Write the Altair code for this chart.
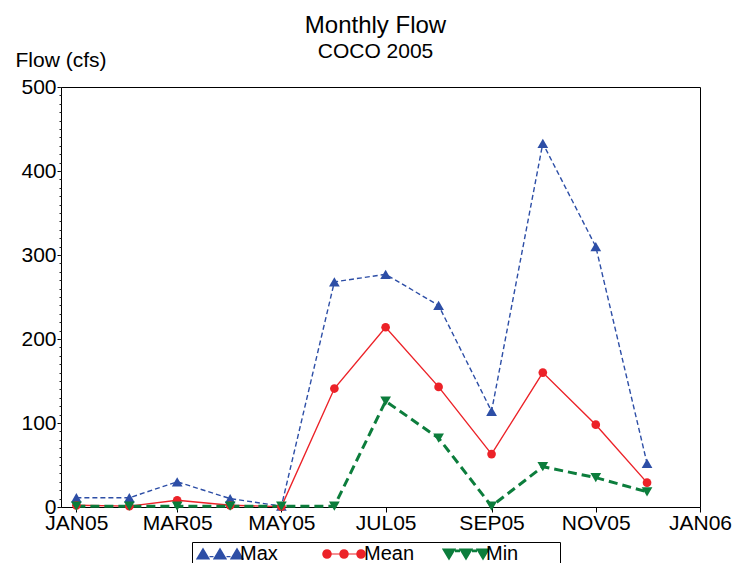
import math
import altair as alt
import pandas as pd

months = ["2005-01-01", "2005-02-01", "2005-03-01", "2005-04-01", "2005-05-01", "2005-06-01",
          "2005-07-01", "2005-08-01", "2005-09-01", "2005-10-01", "2005-11-01", "2005-12-01"]
max_flow = [11, 11, 30, 10, 1, 268, 277, 240, 114, 433, 310, 52]
mean_flow = [2, 1, 8, 2, 0.5, 141, 214, 143, 63, 160, 98, 29]
min_flow = [1, 1, 1, 1, 1, 1, 126, 82, 1, 48, 35, 18]
series = ["Max", "Mean", "Min"]
colors = ["#2D4EA6", "#EC2228", "#0C7D3C"]
x_ticks = ["2005-01-01", "2005-03-01", "2005-05-01", "2005-07-01", "2005-09-01", "2005-11-01", "2006-01-01"]
y_major = [0, 100, 200, 300, 400, 500]
y_minor = list(range(0, 501, 10))

rows = []
for m, a, b, c in zip(months, max_flow, mean_flow, min_flow):
    rows.append({"date": m, "series": "Max", "flow": a})
    rows.append({"date": m, "series": "Mean", "flow": b})
    rows.append({"date": m, "series": "Min", "flow": c})
df = pd.DataFrame(rows)

U = 5.0  # px per path unit (sqrt(symbolSize)/2)


def poly(pts):
    return "M" + " L".join(f"{x / U:.3f},{y / U:.3f}" for x, y in pts) + " Z"


def circle(cx, cy, r, n=16):
    return poly([(cx + r * math.cos(2 * math.pi * k / n), cy + r * math.sin(2 * math.pi * k / n)) for k in range(n)])


def rect(x1, x2, y1, y2):
    return poly([(x1, y1), (x2, y1), (x2, y2), (x1, y2)])


def reach(px):
    # invisible move that widens the legend entry to the right
    return f"M{px / U:.3f},0"


# legend glyphs (pixel geometry): three markers joined by a line
max_path = " ".join(
    [poly([(cx, -6.5), (cx - 7.2, 5.5), (cx + 7.2, 5.5)]) for cx in (-17, 0, 17)]
    + [rect(-10.5, -6.5, 2.0, 3.2), rect(6.5, 10.5, 2.0, 3.2), reach(76)]
)
mean_path = " ".join([rect(-17, 17, -0.6, 0.6)] + [circle(cx, 0, 4.8) for cx in (-17, 0, 17)] + [reach(74)])
min_path = " ".join(
    [poly([(cx, 6.5), (cx - 7.2, -5.5), (cx + 7.2, -5.5)]) for cx in (-17, 0, 17)]
    + [rect(-11, -6, -4.5, -1.8), rect(6, 11, -4.5, -1.8), reach(92)]
)

y_scale = alt.Scale(domain=[0, 500], nice=False)

x_enc = alt.X(
    "date:T",
    scale=alt.Scale(domain=["2004-12-23", "2006-01-01"]),
    axis=alt.Axis(
        values=x_ticks, labelExpr="upper(timeFormat(datum.value, '%b%y'))",
        title=None, grid=False, labelFontSize=21, tickSize=5, labelPadding=0,
        domainColor="#000", tickColor="#000", labelColor="#000", labelFlush=False,
        labelOverlap=False,
    ),
)
y_enc = alt.Y(
    "flow:Q",
    scale=y_scale,
    axis=alt.Axis(
        values=y_major, orient="left", tickSize=4, labelOverlap=False,
        title="Flow (cfs)", titleAngle=0, titleX=-46,
        titleY=-27, titleAlign="left", titleBaseline="middle", titleFontSize=21,
        titleFontWeight="normal", titleColor="#000", grid=False, labelFontSize=21,
        labelPadding=1, domainColor="#000", tickColor="#000", labelColor="#000",
    ),
)
y_minor_enc = alt.Y(
    "flow:Q",
    scale=y_scale,
    axis=alt.Axis(
        values=y_minor, orient="left", tickSize=2, labels=False, domain=False, title=None,
        grid=False, tickColor="#222",
    ),
)

base = alt.Chart(df)
color_scale = alt.Scale(domain=series, range=colors)

line_max = base.transform_filter(alt.datum.series == "Max").mark_line(
    color=colors[0], strokeWidth=1.4, strokeDash=[5, 3]
).encode(x=x_enc, y=y_enc)
line_mean = base.transform_filter(alt.datum.series == "Mean").mark_line(
    color=colors[1], strokeWidth=1.4
).encode(x="date:T", y=alt.Y("flow:Q", scale=y_scale))
line_min = base.transform_filter(alt.datum.series == "Min").mark_line(
    color=colors[2], strokeWidth=3, strokeDash=[9, 5]
).encode(x="date:T", y=alt.Y("flow:Q", scale=y_scale))

pts_max = base.transform_filter(alt.datum.series == "Max").mark_point(
    shape="triangle-up", filled=True, size=115, opacity=1, color=colors[0]
).encode(x="date:T", y=alt.Y("flow:Q", scale=y_scale))
pts_mean = base.transform_filter(alt.datum.series == "Mean").mark_point(
    shape="circle", filled=True, size=75, opacity=1, color=colors[1]
).encode(x="date:T", y=alt.Y("flow:Q", scale=y_scale))
pts_min = base.transform_filter(alt.datum.series == "Min").mark_point(
    shape="triangle-down", filled=True, size=115, opacity=1, color=colors[2]
).encode(x="date:T", y=alt.Y("flow:Q", scale=y_scale))

legend_layer = base.mark_point(opacity=0, filled=True).encode(
    x="date:T",
    y=alt.Y("flow:Q", scale=y_scale),
    color=alt.Color("series:N", scale=color_scale, legend=alt.Legend(
        orient="none", legendX=131, legendY=455, direction="horizontal", title=None,
        symbolSize=100, symbolOpacity=1, symbolStrokeWidth=0, symbolOffset=16, labelOffset=10,
        labelFontSize=20, labelColor="#000", columnPadding=22, gridAlign="each",
        strokeColor="#000", padding=2, labelLimit=300,
    )),
    shape=alt.Shape("series:N", scale=alt.Scale(domain=series, range=[max_path, mean_path, min_path]),
                    legend=None),
)

main = alt.layer(line_max, line_mean, line_min, pts_max, pts_mean, pts_min, legend_layer)
minor = base.mark_point(opacity=0).encode(x="date:T", y=y_minor_enc)

chart = alt.layer(main, minor).resolve_axis(y="independent").properties(
    width=639,
    height=420,
    title=alt.TitleParams(
        text="Monthly Flow", subtitle="COCO 2005", fontSize=24, subtitleFontSize=21,
        fontWeight="normal", color="#000", subtitleColor="#000", anchor="middle",
        subtitlePadding=3, offset=-13, dx=-5,
    ),
    autosize=alt.AutoSizeParams(type="none"),
    padding={"left": 53, "top": 79, "right": 35, "bottom": 56},
).configure(
    font="Liberation Sans"
).configure_view(
    stroke="#000", strokeWidth=1
)

chart.save("out.html", embed_options={"renderer": "svg", "actions": False})
